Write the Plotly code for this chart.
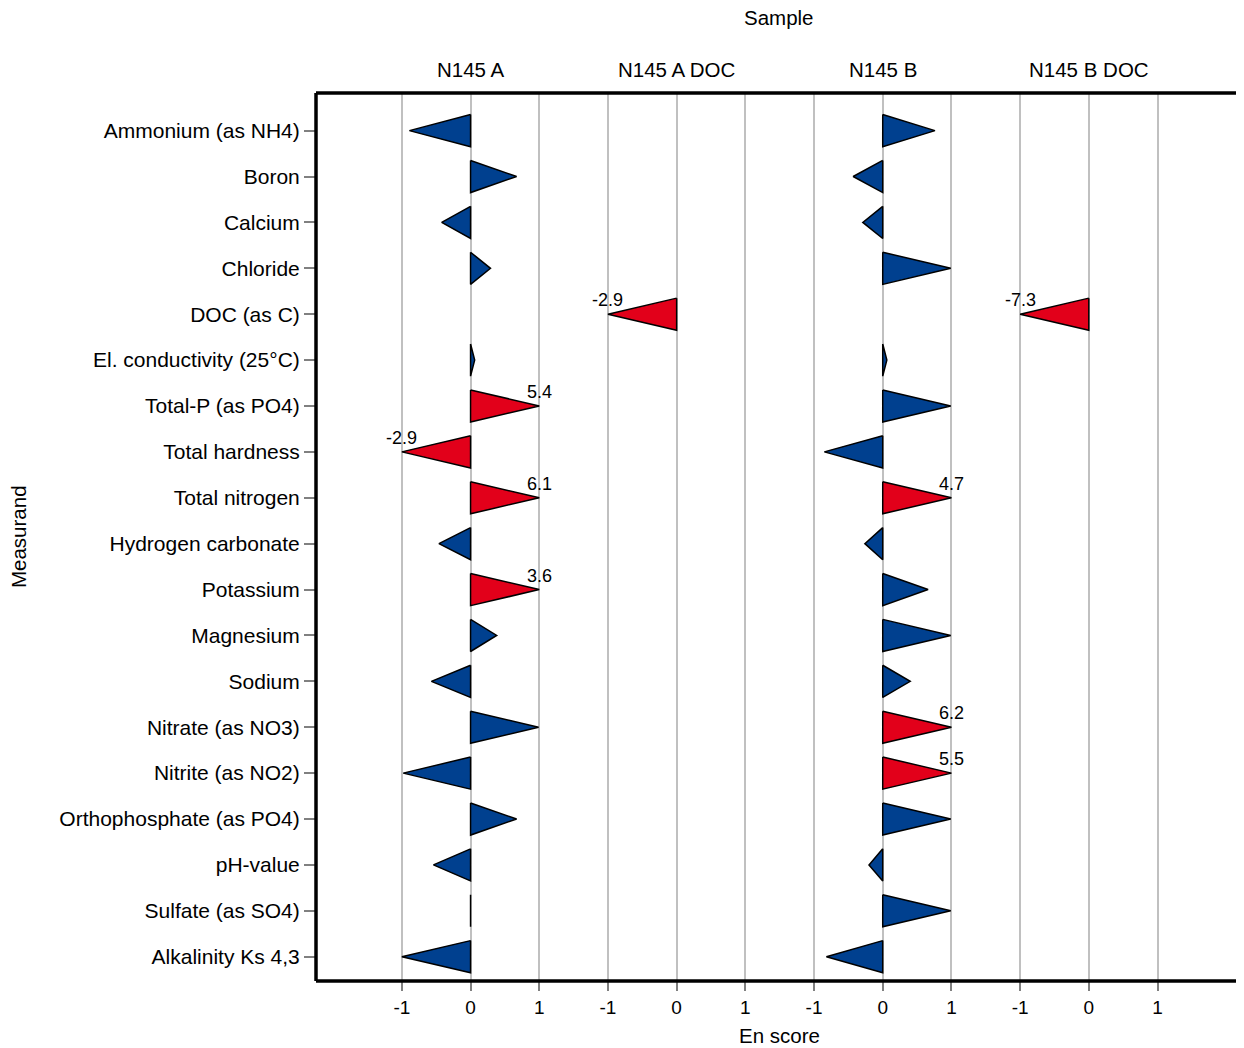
import plotly.graph_objects as go

measurands = [
    "Ammonium (as NH4)", "Boron", "Calcium", "Chloride", "DOC (as C)",
    "El. conductivity (25°C)", "Total-P (as PO4)", "Total hardness",
    "Total nitrogen", "Hydrogen carbonate", "Potassium", "Magnesium",
    "Sodium", "Nitrate (as NO3)", "Nitrite (as NO2)",
    "Orthophosphate (as PO4)", "pH-value", "Sulfate (as SO4)",
    "Alkalinity Ks 4,3",
]
samples = ["N145 A", "N145 A DOC", "N145 B", "N145 B DOC"]

en_n145_a = [-0.89, 0.67, -0.42, 0.29, None, 0.06, 5.4, -2.9, 6.1, -0.46,
             3.6, 0.38, -0.57, 0.99, -0.98, 0.67, -0.54, 0.0, -1.0]
en_n145_a_doc = [None, None, None, None, -2.9, None, None, None, None, None,
                 None, None, None, None, None, None, None, None, None]
en_n145_b = [0.76, -0.43, -0.29, 0.99, None, 0.06, 0.99, -0.85, 4.7, -0.26,
             0.66, 0.99, 0.40, 6.2, 5.5, 0.99, -0.20, 0.99, -0.82]
en_n145_b_doc = [None, None, None, None, -7.3, None, None, None, None, None,
                 None, None, None, None, None, None, None, None, None]

series = [en_n145_a, en_n145_a_doc, en_n145_b, en_n145_b_doc]
tick_labels = ["-1", "0", "1"]

BLUE = "#00408F"
RED = "#E2001A"
SPACING = 3.0
HALF_H = 0.35

fig = go.Figure()

blue_x, blue_y, red_x, red_y = [], [], [], []
annotations = []
for i, vals in enumerate(series):
    x0 = i * SPACING
    for j, v in enumerate(vals):
        if v is None:
            continue
        c = max(-1.0, min(1.0, v))
        xs = [x0, x0, x0 + c, x0, None]
        ys = [j - HALF_H, j + HALF_H, j, j - HALF_H, None]
        if abs(v) > 1:
            red_x += xs
            red_y += ys
            annotations.append(dict(
                x=x0 + c, y=j, xref="x", yref="y", text=f"{v:.1f}",
                showarrow=False, xanchor="center", yanchor="bottom",
                font=dict(size=18, color="black"), yshift=2,
            ))
        else:
            blue_x += xs
            blue_y += ys

for xs, ys, col in [(blue_x, blue_y, BLUE), (red_x, red_y, RED)]:
    fig.add_trace(go.Scatter(
        x=xs, y=ys, mode="lines", fill="toself", fillcolor=col,
        line=dict(color="black", width=1.5), connectgaps=False,
        hoverinfo="skip", showlegend=False,
    ))

tickvals = []
ticktext = []
for i in range(len(samples)):
    for k, t in enumerate(tick_labels):
        tickvals.append(i * SPACING + (k - 1))
        ticktext.append(t)

# panel labels
for i, s in enumerate(samples):
    annotations.append(dict(
        x=i * SPACING, y=1.027, xref="x", yref="paper", text=s,
        showarrow=False, xanchor="center", yanchor="middle",
        font=dict(size=20.5, color="black"),
    ))
annotations.append(dict(
    x=0.5, y=1.0845, xref="paper", yref="paper", text="Sample",
    showarrow=False, xanchor="center", yanchor="middle",
    font=dict(size=20.5, color="black"),
))
annotations.append(dict(
    x=0.5, y=-0.0619, xref="paper", yref="paper", text="En score",
    showarrow=False, xanchor="center", yanchor="middle",
    font=dict(size=20.5, color="black"),
))
annotations.append(dict(
    x=-0.3218, y=0.5, xref="paper", yref="paper", text="Measurand",
    showarrow=False, xanchor="center", yanchor="middle", textangle=-90,
    font=dict(size=20.5, color="black"),
))

shapes = [
    dict(type="line", xref="paper", yref="paper", x0=0, x1=0, y0=0, y1=1,
         line=dict(color="black", width=3.5)),
    dict(type="line", xref="paper", yref="paper", x0=0, x1=1, y0=1, y1=1,
         line=dict(color="black", width=3.5)),
    dict(type="line", xref="paper", yref="paper", x0=0, x1=1, y0=0, y1=0,
         line=dict(color="black", width=3.5)),
    dict(type="line", xref="paper", yref="paper", x0=1, x1=1, y0=0, y1=1,
         line=dict(color="black", width=1.5)),
]

fig.update_layout(
    width=1236, height=1040,
    margin=dict(l=308, r=2, t=85, b=67),
    plot_bgcolor="white", paper_bgcolor="white",
    font=dict(family="Liberation Sans, Arial, sans-serif", color="black"),
    annotations=annotations, shapes=shapes,
    xaxis=dict(
        range=[-2.25, 11.23], tickvals=tickvals, ticktext=ticktext,
        showgrid=True, gridcolor="#c0c0c0", gridwidth=2, zeroline=False,
        ticks="outside", ticklen=9, tickwidth=2, tickcolor="#808080",
        tickfont=dict(size=19), showline=False, fixedrange=True,
    ),
    yaxis=dict(
        range=[18.53, -0.82], tickvals=list(range(len(measurands))),
        ticktext=measurands, showgrid=False, zeroline=False,
        ticks="outside", ticklen=11, tickwidth=1.5, tickcolor="#808080",
        tickfont=dict(size=21), showline=False, fixedrange=True,
    ),
    showlegend=False,
)

fig.write_html("out.html")
